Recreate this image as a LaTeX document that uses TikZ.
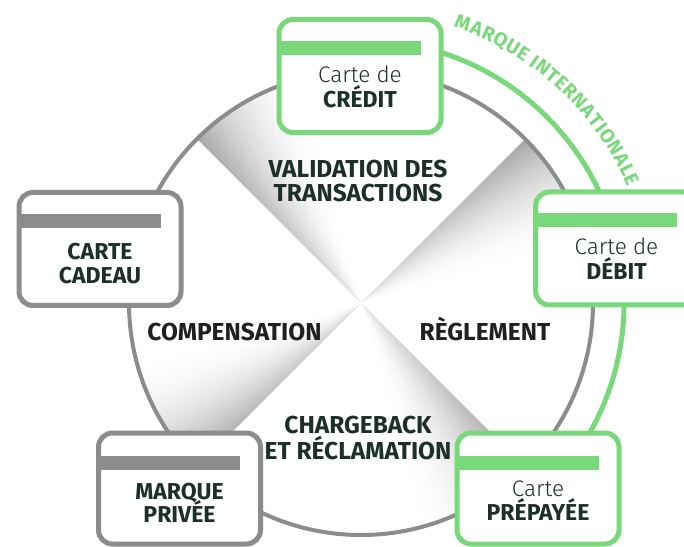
\documentclass[tikz,border=0pt]{standalone}
\usepackage{fontspec}
\setmainfont{Fira Sans}
\newfontfamily\lightfont{Fira Sans}[UprightFont=* Light]
\newcommand\arcfont{\bfseries\fontsize{19.5}{20}\selectfont}
\usetikzlibrary{fadings}
\definecolor{cgreen}{HTML}{78D87A}
\definecolor{cgray}{HTML}{8B8D8D}
\definecolor{ctext}{HTML}{1C2F2B}
\definecolor{cdark}{HTML}{231F20}
\tikzfading[name=centrefade, inner color=transparent!0, outer color=transparent!100]
\tikzset{
  card/.style={draw=#1, line width=5pt, rounded corners=14pt, fill=white,
    minimum width=162pt, minimum height=113pt, outer sep=0pt, inner sep=0pt},
  lowcard/.style={card=#1, minimum height=111pt},
  lightlbl/.style={anchor=base, inner sep=0pt, text=ctext, font=\lightfont\fontsize{22.5}{24}\selectfont},
  boldlbl/.style={anchor=base, inner sep=0pt, text=ctext, font=\bfseries\fontsize{23}{24}\selectfont},
  biglbl/.style={anchor=base, inner sep=0pt, text=#1, font=\bfseries\fontsize{24.5}{26}\selectfont},
  biglbl/.default=ctext,
  arcletter/.style={anchor=base, inner sep=0pt, text=cgreen, font=\arcfont}
}
\begin{document}
\begin{tikzpicture}[x=1pt,y=1pt]
\useasboundingbox (0,0) rectangle (684,546);
\fill[white] (0,0) rectangle (684,546);
\coordinate (O) at (361,243);
% pinwheel shading
\begin{scope}
\clip (O) circle (231);
\foreach \k in {135,45,-45,-135}{
  \foreach \i in {0,...,29}{
    \pgfmathsetmacro\a{\k-\i}
    \pgfmathsetmacro\b{\k-\i-1.6}
    \pgfmathsetmacro\s{40*(1-\i/30)^2}
    \fill[black!\s] (O) -- ++(\a:250) arc[start angle=\a,end angle=\b,radius=250] -- cycle;
  }
}
\end{scope}
\fill[white, fill opacity=0.7, path fading=centrefade] (O) circle (300);
% rings
\draw[cgreen, line width=5pt] (O) ++(80:263) arc[start angle=80,end angle=-36,radius=263];
\draw[cgray, line width=4pt] (O) circle (232);
% curved label MARQUE INTERNATIONALE (letter widths in em)
\xdef\curang{71.5}
\foreach \ch/\wem [count=\n] in {M/0.80,A/0.63,R/0.62,Q/0.69,U/0.66,E/0.53,~/0.25,I/0.29,N/0.68,T/0.54,E/0.53,R/0.62,N/0.68,A/0.63,T/0.54,I/0.29,O/0.69,N/0.68,A/0.63,L/0.48,E/0.53}{
  \pgfmathsetmacro\w{\wem*19.5}
  \pgfmathsetmacro\mid{\curang-(\w/2)/291*57.29578}
  \node[arcletter, rotate=\mid-90] (arc\n) at ([shift={(\mid:291)}]O) {\ch};
  \pgfmathsetmacro\nxt{\curang-(\w+0.5)/291*57.29578}
  \xdef\curang{\nxt}
}
% cards
\node[card=cgreen] (credit) at (360,470) {};
\node[card=cgray] (cadeau) at (100,297) {};
\node[card=cgreen] (debit) at (616.5,297.5) {};
\node[lowcard=cgray] (privee) at (179.5,57.5) {};
\node[lowcard=cgreen] (prepaid) at (538,57.5) {};
\foreach \n/\c/\t in {credit/cgreen/21.5,cadeau/cgray/21.5,debit/cgreen/21.5,privee/cgray/23,prepaid/cgreen/23}{
  \fill[\c] ([yshift=-\t]\n.north west) rectangle ([xshift=141.5,yshift=-\t-14]\n.north west);
}
\node[lightlbl] (credit1) at ([yshift=-63]credit.north) {Carte de};
\node[boldlbl] (credit2) at ([yshift=-88]credit.north) {CRÉDIT};
\node[lightlbl] (debit1) at ([yshift=-63]debit.north) {Carte de};
\node[boldlbl] (debit2) at ([yshift=-88]debit.north) {DÉBIT};
\node[lightlbl] (prepaid1) at ([yshift=-63.5]prepaid.north) {Carte};
\node[boldlbl] (prepaid2) at ([yshift=-87.5]prepaid.north) {PRÉPAYÉE};
\node[boldlbl] (cadeau1) at ([yshift=-67]cadeau.north) {CARTE};
\node[boldlbl] (cadeau2) at ([yshift=-91]cadeau.north) {CADEAU};
\node[boldlbl] (privee1) at ([yshift=-66.5]privee.north) {MARQUE};
\node[boldlbl] (privee2) at ([yshift=-89.5]privee.north) {PRIVÉE};
% centre labels
\node[biglbl] (val1) at (358,368.5) {VALIDATION DES};
\node[biglbl] (val2) at (358,344.5) {TRANSACTIONS};
\node[biglbl=cdark] (comp) at (234.5,205) {COMPENSATION};
\node[biglbl=cdark] (regl) at (485,205) {RÈGLEMENT};
\node[biglbl] (cb1) at (358,112.5) {CHARGEBACK};
\node[biglbl] (cb2) at (358,86.5) {ET RÉCLAMATION};
\end{tikzpicture}
\end{document}
